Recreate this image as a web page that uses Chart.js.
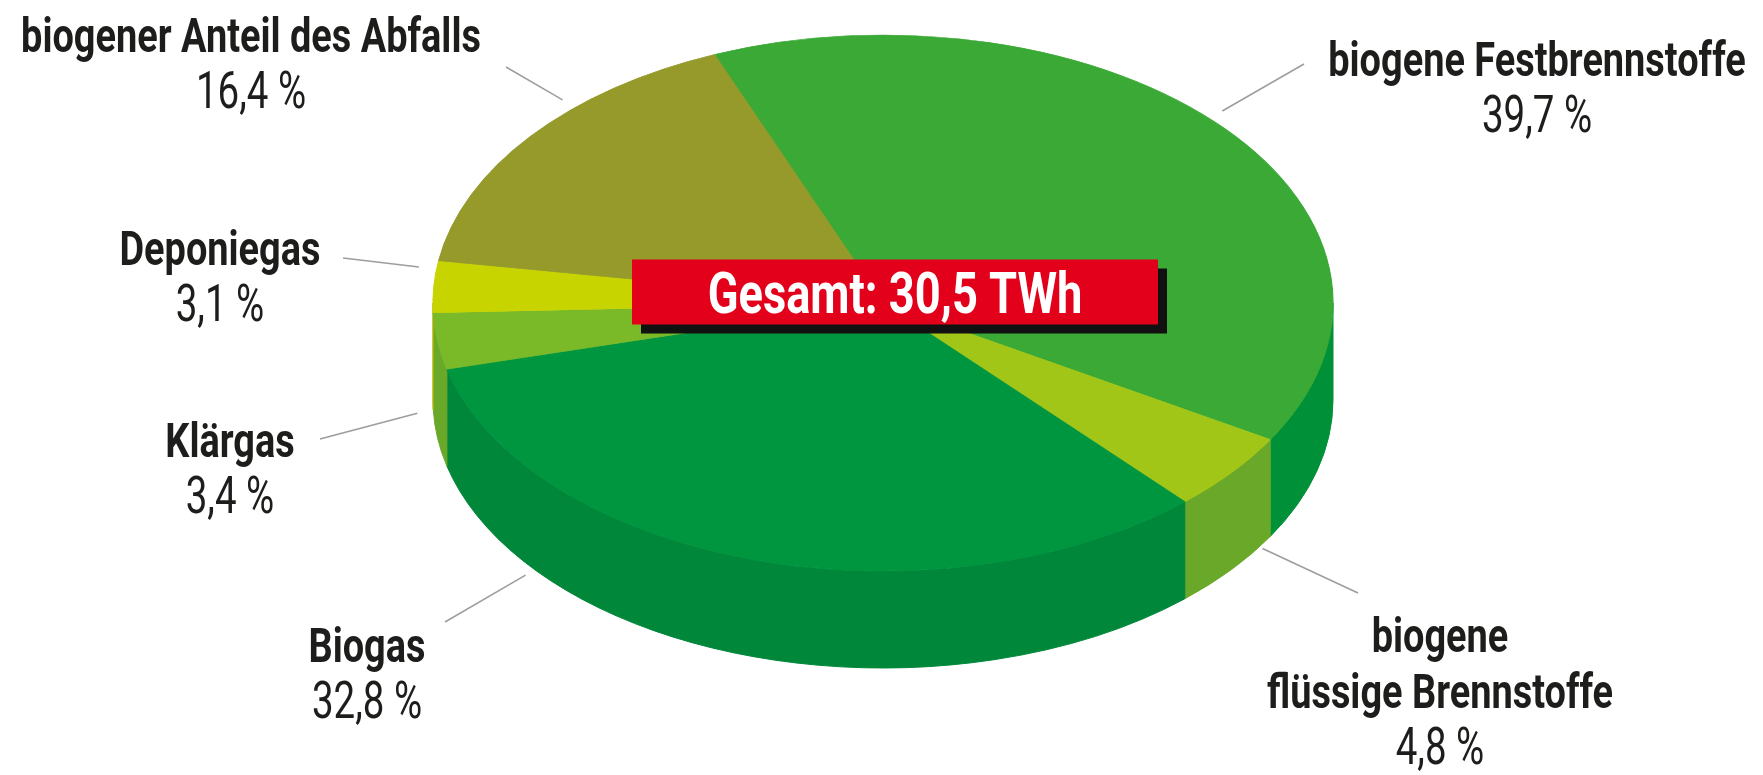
<!DOCTYPE html>
<html lang="de">
<head>
<meta charset="utf-8">
<title>Anteile Biomasse</title>
<script src="https://cdn.jsdelivr.net/npm/chart.js@4.4.1/dist/chart.umd.min.js"></script>
<style>
  html, body { margin: 0; padding: 0; background: #fff; }
  #wrap { width: 1763px; height: 775px; }
</style>
</head>
<body>
<div id="wrap"><canvas id="pie-chart"></canvas></div>
<script>
// data (shares in percent, clockwise from the top)
const categories = [
  ["biogene Festbrennstoffe"],
  ["biogene", "flüssige Brennstoffe"],
  ["Biogas"],
  ["Klärgas"],
  ["Deponiegas"],
  ["biogener Anteil des Abfalls"]
];
const shares = [39.7, 4.8, 32.8, 3.4, 3.1, 16.4];
const totalText = "Gesamt: 30,5 TWh";

const topColors = ["#3aa935", "#a2c617", "#009640", "#7ab928", "#c8d400", "#959a2b"];
const sideColors = ["#009138", "#6aa82a", "#00873a", "#6aa82a", "#a9b300", "#7a7f22"];

// where the tilted pie sits on the page
const pie = { cx: 883, cy: 303, rx: 450, ry: 268, depth: 97 };

// label placement: text centre/baseline, outer end of leader, point on slice (fraction, depth on wall)
const labelLayout = [
  { x: 1537, y: 76, lx: 1304, ly: 64, at: 0.48, side: 0 },
  { x: 1440, y: 652, lx: 1358, ly: 593, at: 0.3, side: 0.85 },
  { x: 367, y: 662, lx: 445, ly: 622, at: 0.78, side: 0.95 },
  { x: 230, y: 457, lx: 320, ly: 439, at: 0.7, side: 0.85 },
  { x: 220, y: 265, lx: 343, ly: 258, at: 0.85, side: 0 },
  { x: 251, y: 52, lx: 506, ly: 67, at: 0.64, side: 0 }
];

const titleFont = "bold 48px Roboto";
const valueFont = "400 52px Roboto";
const lineGap = 56;

function squeezedText(ctx, str, x, y, font, squeeze, color) {
  ctx.save();
  ctx.translate(x, y);
  ctx.scale(squeeze, 1);
  ctx.font = font;
  ctx.fillStyle = color;
  ctx.textAlign = "center";
  ctx.textBaseline = "alphabetic";
  ctx.fillText(str, 0, 0);
  ctx.restore();
}

// parts of a slice that face the viewer (angles between 0 and PI)
function frontParts(a1, a2) {
  const out = [];
  for (let k = -1; k <= 1; k++) {
    const s = Math.max(a1 + 2 * Math.PI * k, 0);
    const e = Math.min(a2 + 2 * Math.PI * k, Math.PI);
    if (e > s) out.push([s, e]);
  }
  return out;
}

const pie3d = {
  id: "pie3d",
  beforeDatasetsDraw(chart) {
    const ctx = chart.ctx;
    const arcs = chart.getDatasetMeta(0).data;

    // side walls
    arcs.forEach((arc, i) => {
      const { startAngle, endAngle } = arc.getProps(["startAngle", "endAngle"], true);
      frontParts(startAngle, endAngle).forEach(([s, e]) => {
        ctx.beginPath();
        ctx.ellipse(pie.cx, pie.cy, pie.rx, pie.ry, 0, s, e, false);
        ctx.lineTo(pie.cx + pie.rx * Math.cos(e), pie.cy + pie.ry * Math.sin(e) + pie.depth);
        ctx.ellipse(pie.cx, pie.cy + pie.depth, pie.rx, pie.ry, 0, e, s, true);
        ctx.closePath();
        ctx.fillStyle = sideColors[i];
        ctx.strokeStyle = sideColors[i];
        ctx.lineWidth = 1;
        ctx.fill();
        ctx.stroke();
      });
    });

    // squash the library's round pie into the tilted top face
    const { x, y, outerRadius } = arcs[0].getProps(["x", "y", "outerRadius"], true);
    ctx.save();
    ctx.translate(pie.cx, pie.cy);
    ctx.scale(pie.rx / outerRadius, pie.ry / outerRadius);
    ctx.translate(-x, -y);
  },
  afterDatasetsDraw(chart) {
    const ctx = chart.ctx;
    ctx.restore();
    const arcs = chart.getDatasetMeta(0).data;

    // total box
    const bw = 526, bh = 65;
    const bx = pie.cx + 12 - bw / 2, by = pie.cy - 11 - bh / 2;
    ctx.fillStyle = "#111";
    ctx.fillRect(bx + 9, by + 9, bw, bh);
    ctx.fillStyle = "#e2001a";
    ctx.fillRect(bx, by, bw, bh);
    squeezedText(ctx, totalText, bx + bw / 2, by + bh / 2 + 21, "bold 58px Roboto", 0.78, "#fff");

    // labels and leaders
    arcs.forEach((arc, i) => {
      const lay = labelLayout[i];
      const { startAngle, endAngle } = arc.getProps(["startAngle", "endAngle"], true);
      const a = startAngle + (endAngle - startAngle) * lay.at;
      const px = pie.cx + pie.rx * 1.04 * Math.cos(a);
      const py = pie.cy + pie.ry * 1.04 * Math.sin(a) + pie.depth * lay.side;
      ctx.beginPath();
      ctx.moveTo(lay.lx, lay.ly);
      ctx.lineTo(px, py);
      ctx.strokeStyle = "#9d9d9c";
      ctx.lineWidth = 1.5;
      ctx.stroke();

      let ty = lay.y;
      categories[i].forEach(line => {
        squeezedText(ctx, line, lay.x, ty, titleFont, 0.79, "#1d1d1b");
        ty += lineGap;
      });
      const pct = shares[i].toFixed(1).replace(".", ",") + " %";
      squeezedText(ctx, pct, lay.x, ty, valueFont, 0.74, "#1d1d1b");
    });
  }
};

const ctx = document.getElementById("pie-chart").getContext("2d");

new Chart(ctx, {
  type: "pie",
  data: {
    labels: categories,
    datasets: [{
      data: shares,
      backgroundColor: topColors,
      borderColor: topColors,
      borderWidth: 1,
      clip: false
    }]
  },
  options: {
    responsive: true,
    maintainAspectRatio: false,
    animation: false,
    events: [],
    rotation: -22,
    plugins: {
      legend: { display: false },
      tooltip: { enabled: false }
    }
  },
  plugins: [pie3d]
});
</script>
</body>
</html>
